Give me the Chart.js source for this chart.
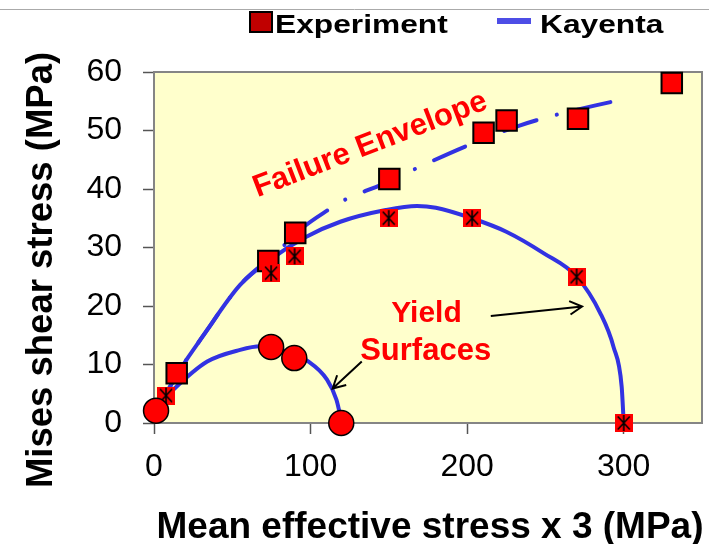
<!DOCTYPE html>
<html>
<head>
<meta charset="utf-8">
<script src="https://cdn.jsdelivr.net/npm/chart.js@4/dist/chart.umd.min.js"></script>
<style>
  html, body { margin: 0; padding: 0; background: #ffffff; }
  canvas { display: block; }
</style>
</head>
<body>
<canvas id="chart" width="709" height="544"></canvas>
<script>
// Axis tick labels
const xTickValues = [0, 100, 200, 300];
const yTickValues = [0, 10, 20, 30, 40, 50, 60];

// Experiment: failure points (large squares)
const failX = [14.5, 73.0, 90.2, 150.3, 210.5, 225.2, 270.8, 330.7];
const failY = [8.5, 27.7, 32.5, 41.7, 49.6, 51.7, 52.0, 58.1];

// Experiment: yield points on the large surface (squares with asterisk)
const yieldX = [7.7, 74.8, 89.8, 149.9, 203.2, 269.9, 300.0];
const yieldY = [4.7, 25.6, 28.5, 35.0, 35.0, 25.0, 0.0];

// Experiment: yield points on the small surface (circles)
const smallX = [1.3, 74.8, 89.6, 119.6];
const smallY = [2.1, 13.0, 11.1, 0.0];

// Kayenta: failure envelope
const envX = [4, 9, 34, 55, 74, 82, 95, 110.5, 121.5, 145.7, 166.5, 200, 233, 258.6, 293.8];
const envY = [2.5, 5.6, 15.9, 23.6, 28.2, 30.1, 33.4, 36.3, 38.1, 40.8, 43.4, 47.4, 50.8, 52.8, 55.0];

// Kayenta: large yield surface
const bigX = [4, 9, 34, 55, 74, 97, 119, 148, 168, 180, 203, 225, 249, 270, 285, 293.5, 298.7, 300];
const bigY = [2.5, 5.6, 15.9, 23.6, 27.9, 31.8, 34.4, 36.4, 37.1, 36.8, 35.0, 32.7, 29.0, 25.0, 18.8, 13.0, 6.2, 0];

// Kayenta: small yield surface
const smlX = [3, 12, 34, 55, 68, 80, 90, 98, 110.5, 116.5, 120];
const smlY = [3, 5.6, 10.5, 12.5, 13.1, 12.6, 11.6, 10.6, 7.4, 4.0, 0];

const pts = (xs, ys) => xs.map((x, i) => ({ x: x, y: ys[i] }));

const FONT = '"Liberation Sans", Arial, Helvetica, sans-serif';
const BLUE = '#3232e2';
const RED = '#ff0000';

// Marker: red square with a black asterisk
function asteriskMarker() {
  const s = 18;
  const c = document.createElement('canvas');
  c.width = s; c.height = s;
  const g = c.getContext('2d');
  g.fillStyle = RED;
  g.fillRect(0, 0, s, s);
  g.strokeStyle = '#000';
  g.lineWidth = 1.6;
  g.beginPath();
  g.moveTo(s / 2, 1); g.lineTo(s / 2, s - 1);
  g.moveTo(3, 2.5); g.lineTo(s - 3, s - 2.5);
  g.moveTo(s - 3, 2.5); g.lineTo(3, s - 2.5);
  g.stroke();
  return c;
}

function stretchedText(ctx, text, x, y, font, sx) {
  ctx.save();
  ctx.translate(x, y);
  ctx.scale(sx, 1);
  ctx.font = font;
  ctx.fillText(text, 0, 0);
  ctx.restore();
}

function arrow(ctx, x1, y1, x2, y2) {
  const a = Math.atan2(y2 - y1, x2 - x1);
  const h = 14, w = 0.5;
  ctx.beginPath();
  ctx.moveTo(x1, y1); ctx.lineTo(x2, y2);
  ctx.moveTo(x2 - h * Math.cos(a - w), y2 - h * Math.sin(a - w));
  ctx.lineTo(x2, y2);
  ctx.lineTo(x2 - h * Math.cos(a + w), y2 - h * Math.sin(a + w));
  ctx.stroke();
}

const decor = {
  id: 'decor',
  beforeDraw(chart) {
    const { ctx, chartArea: a } = chart;
    ctx.save();
    ctx.fillStyle = '#ffffff';
    ctx.fillRect(0, 0, chart.width, chart.height);
    ctx.fillStyle = '#ffffcc';
    ctx.fillRect(a.left, a.top, a.right - a.left, a.bottom - a.top);
    // thin rule along the top
    ctx.strokeStyle = '#aaaaaa';
    ctx.lineWidth = 1;
    ctx.beginPath(); ctx.moveTo(0, 9.5); ctx.lineTo(chart.width, 9.5); ctx.stroke();
    ctx.restore();
  },
  beforeDatasetsDraw(chart) {
    const { ctx, chartArea: a } = chart;
    ctx.save();
    ctx.strokeStyle = '#858585';
    ctx.lineWidth = 2;
    ctx.strokeRect(a.left, a.top, a.right - a.left, a.bottom - a.top);
    ctx.restore();
  },
  afterDraw(chart) {
    const { ctx } = chart;
    const xs = chart.scales.x, ys = chart.scales.y;
    const px = v => xs.getPixelForValue(v), py = v => ys.getPixelForValue(v);
    ctx.save();

    // axis titles
    ctx.fillStyle = '#000';
    ctx.font = 'bold 37px ' + FONT;
    ctx.textAlign = 'center';
    ctx.textBaseline = 'alphabetic';
    ctx.fillText('Mean effective stress x 3 (MPa)', 430, 538);
    ctx.save();
    ctx.translate(52, 270);
    ctx.rotate(-Math.PI / 2);
    ctx.font = 'bold 36.5px ' + FONT;
    ctx.fillText('Mises shear stress (MPa)', 0, 0);
    ctx.restore();

    // legend
    ctx.textAlign = 'left';
    ctx.fillStyle = '#c00000';
    ctx.fillRect(250, 12, 22, 20);
    ctx.strokeStyle = '#000';
    ctx.lineWidth = 2;
    ctx.strokeRect(250, 12, 22, 20);
    ctx.fillStyle = '#000';
    stretchedText(ctx, 'Experiment', 275, 33, 'bold 26px ' + FONT, 1.22);
    ctx.strokeStyle = '#4d4de6';
    ctx.lineWidth = 6;
    ctx.beginPath(); ctx.moveTo(497, 21); ctx.lineTo(531, 21); ctx.stroke();
    stretchedText(ctx, 'Kayenta', 540, 33, 'bold 26px ' + FONT, 1.22);

    // annotations
    ctx.fillStyle = RED;
    ctx.textAlign = 'center';
    ctx.save();
    ctx.translate(px(140), py(46.2));
    ctx.rotate(-21 * Math.PI / 180);
    ctx.font = 'bold 31px ' + FONT;
    ctx.fillText('Failure Envelope', 0, 0);
    ctx.restore();
    ctx.font = 'bold 30px ' + FONT;
    ctx.fillText('Yield', px(174), py(17.3));
    ctx.font = 'bold 31px ' + FONT;
    ctx.fillText('Surfaces', px(173.5), py(10.8));

    ctx.strokeStyle = '#000';
    ctx.lineWidth = 2;
    arrow(ctx, px(132.7), py(10.5), px(114.1), py(5.9));
    arrow(ctx, px(215.1), py(18.3), px(273.4), py(19.9));
    ctx.restore();
  }
};

const lineStyle = {
  showLine: true,
  pointRadius: 0,
  pointHoverRadius: 0,
  borderColor: BLUE,
  backgroundColor: BLUE,
  borderWidth: 4,
  fill: false,
  cubicInterpolationMode: 'monotone',
  borderCapStyle: 'round',
  borderJoinStyle: 'round'
};

new Chart(document.getElementById('chart'), {
  type: 'scatter',
  data: {
    datasets: [
      {
        label: 'Experiment',
        data: pts(smallX, smallY),
        pointStyle: 'circle',
        pointRadius: 12.5,
        pointBackgroundColor: RED,
        pointBorderColor: '#000',
        pointBorderWidth: 1.5,
        clip: false
      },
      {
        label: 'Experiment',
        data: pts(yieldX, yieldY),
        pointStyle: asteriskMarker(),
        pointRadius: 9,
        clip: false
      },
      {
        label: 'Experiment',
        data: pts(failX, failY),
        pointStyle: 'rect',
        pointRadius: 14.5,
        pointBackgroundColor: RED,
        pointBorderColor: '#000',
        pointBorderWidth: 2,
        clip: false
      },
      Object.assign({ label: 'Kayenta', data: pts(smlX, smlY) }, lineStyle),
      Object.assign({ label: 'Kayenta', data: pts(bigX, bigY) }, lineStyle),
      Object.assign({
        label: 'Kayenta',
        data: pts(envX, envY),
        borderDash: [34, 21, 0.1, 21],
        borderDashOffset: 0
      }, lineStyle)
    ]
  },
  options: {
    responsive: false,
    animation: false,
    devicePixelRatio: 1,
    layout: { autoPadding: false, padding: { top: 72, right: 7, left: 0, bottom: 0 } },
    plugins: {
      legend: { display: false },
      tooltip: { enabled: false },
      title: { display: false }
    },
    scales: {
      x: {
        type: 'linear',
        min: 0,
        max: 350,
        bounds: 'data',
        afterBuildTicks: s => { s.ticks = xTickValues.map(v => ({ value: v })); },
        afterFit: s => { s.height = 121; s.paddingLeft = 0; s.paddingRight = 0; },
        grid: {
          drawOnChartArea: false,
          drawTicks: true,
          tickLength: 11,
          tickColor: '#555',
          tickWidth: 1.5
        },
        border: { display: false },
        ticks: {
          padding: 14,
          color: '#000',
          maxRotation: 0,
          font: { family: FONT, size: 32 }
        },
        title: { display: false }
      },
      y: {
        type: 'linear',
        min: 0,
        max: 60,
        bounds: 'data',
        afterBuildTicks: s => { s.ticks = yTickValues.map(v => ({ value: v })); },
        afterFit: s => { s.width = 154; s.paddingTop = 0; s.paddingBottom = 0; },
        grid: {
          drawOnChartArea: false,
          drawTicks: true,
          tickLength: 11,
          tickColor: '#555',
          tickWidth: 1.5
        },
        border: { display: false },
        ticks: {
          padding: 21,
          color: '#000',
          font: { family: FONT, size: 32 }
        },
        title: { display: false }
      }
    }
  },
  plugins: [decor]
});
</script>
</body>
</html>
